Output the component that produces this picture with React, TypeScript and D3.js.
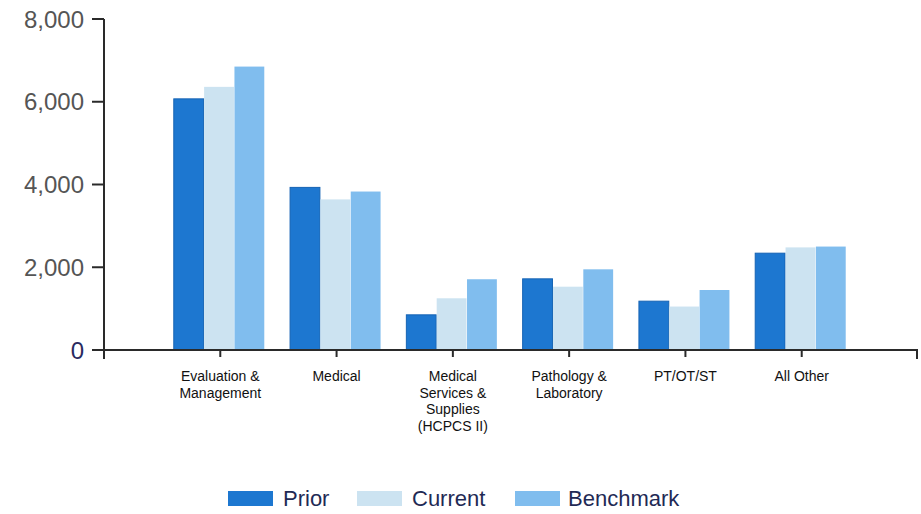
import React from "react";
import * as d3 from "d3";

const categories = [
  ["Evaluation &", "Management"],
  ["Medical"],
  ["Medical", "Services &", "Supplies", "(HCPCS II)"],
  ["Pathology &", "Laboratory"],
  ["PT/OT/ST"],
  ["All Other"],
];
const seriesNames = ["Prior", "Current", "Benchmark"];
const prior = [6070, 3930, 850, 1720, 1180, 2340];
const current = [6360, 3640, 1250, 1530, 1050, 2480];
const benchmark = [6850, 3830, 1710, 1950, 1450, 2500];
const yTicks = [0, 2000, 4000, 6000, 8000];

const colors = ["#1d77d0", "#cce3f1", "#80bdee"];
const strokes = ["#1563b4", "none", "none"];

export default function App() {
  const W = 921, H = 514;
  const left = 104, right = 918, top = 19, bottom = 350;
  const keys = categories.map((_, i) => String(i));
  const x = d3.scaleBand<string>().domain(keys).range([left, right]).paddingInner(0).paddingOuter(0.5);
  const y = d3.scaleLinear().domain([0, 8000]).range([bottom, top]);
  const groupW = 91;
  const xs = d3.scaleBand<string>().domain(seriesNames).range([-groupW / 2, groupW / 2]).padding(0);
  const data = [prior, current, benchmark];
  const fmt = d3.format(",");
  const axisColor = "#2a2a2a";

  const legendItems = [
    { name: "Prior", sx: 228, tx: 283 },
    { name: "Current", sx: 357, tx: 412 },
    { name: "Benchmark", sx: 515, tx: 568 },
  ];

  return (
    <svg width={W} height={H} style={{ position: "absolute", left: 0, top: 0, background: "#fff" }}
      fontFamily="'Liberation Sans', Arial, sans-serif">
      {data.map((vals, si) =>
        vals.map((v, ci) => {
          const cx = x(String(ci))! + x.bandwidth() / 2 - 1;
          const bx = cx + xs(seriesNames[si])!;
          return (
            <rect key={`${si}-${ci}`} x={bx} y={y(v)} width={xs.bandwidth() - 0.5} height={bottom - y(v)}
              fill={colors[si]} stroke={strokes[si]} strokeWidth={1} />
          );
        })
      )}
      <line x1={left} x2={left} y1={top} y2={bottom + 9} stroke={axisColor} strokeWidth={2} />
      {yTicks.map((t) => (
        <g key={t}>
          <line x1={left - 12} x2={left} y1={y(t)} y2={y(t)} stroke={axisColor} strokeWidth={2} />
          <text x={84} y={y(t)} dy="0.36em" textAnchor="end" fontSize={24}
            fill={t === 0 ? "#2a2a60" : "#555"}>{fmt(t)}</text>
        </g>
      ))}
      <line x1={left} x2={right} y1={bottom} y2={bottom} stroke={axisColor} strokeWidth={2} />
      <line x1={right - 1} x2={right - 1} y1={bottom} y2={bottom + 9} stroke={axisColor} strokeWidth={2} />
      {categories.map((lines, ci) => {
        const cx = x(String(ci))! + x.bandwidth() / 2;
        return (
          <g key={ci}>
            <line x1={cx} x2={cx} y1={bottom} y2={bottom + 7} stroke={axisColor} strokeWidth={2} />
            <text x={cx} y={381} textAnchor="middle" fontSize={14} fill="#111">
              {lines.map((l, li) => (
                <tspan key={li} x={cx} dy={li === 0 ? 0 : 16.5}>{l}</tspan>
              ))}
            </text>
          </g>
        );
      })}
      {legendItems.map((it, i) => (
        <g key={it.name}>
          <rect x={it.sx} y={491} width={45} height={15} fill={colors[i]} />
          <text x={it.tx} y={506} fontSize={22} fill="#1f2a55">{it.name}</text>
        </g>
      ))}
    </svg>
  );
}
